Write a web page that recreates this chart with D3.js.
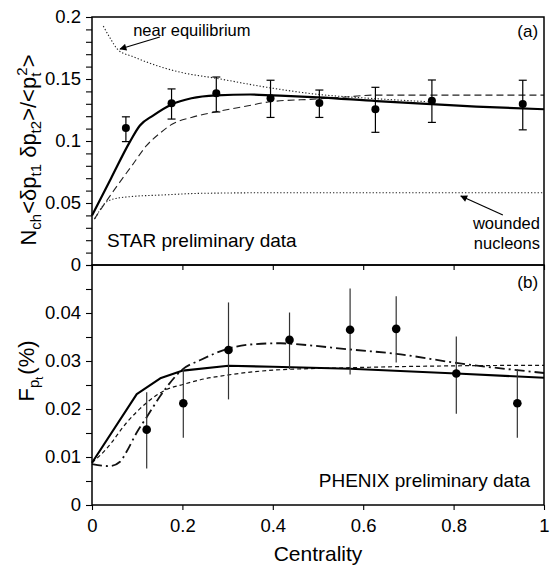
<!DOCTYPE html>
<html><head><meta charset="utf-8">
<script src="https://cdn.jsdelivr.net/npm/d3@7"></script>
<style>body{margin:0;background:#fff}svg{display:block}text{font-family:"Liberation Sans",Arial,Helvetica,sans-serif;fill:#000}</style>
</head><body>
<svg id="c" width="553" height="565"></svg>
<script>
// ---------- DATA ----------
// Panel (a): STAR preliminary data
const starX  = [0.075,0.176,0.275,0.395,0.503,0.627,0.752,0.953];
const starY  = [0.1105,0.1304,0.1385,0.1344,0.1306,0.1256,0.1325,0.1298];
const starHi = [0.1195,0.142,0.1516,0.149,0.1411,0.1433,0.1492,0.149];
const starLo = [0.0995,0.1177,0.1234,0.119,0.119,0.107,0.115,0.109];
const topSolid = [[0,0.040],[0.042,0.0698],[0.084,0.0995],[0.106,0.1125],[0.135,0.1205],[0.176,0.1295],[0.22,0.1345],[0.275,0.1368],[0.35,0.1375],[0.4,0.1368],[0.5,0.1352],[0.63,0.1322],[0.75,0.1298],[0.85,0.1278],[1.0,0.1256]];
const topDashed = [[0.005,0.037],[0.029,0.05],[0.05,0.061],[0.09,0.081],[0.12,0.096],[0.151,0.1065],[0.177,0.1135],[0.22,0.119],[0.275,0.1236],[0.34,0.128],[0.395,0.1317],[0.5,0.1339],[0.57,0.1357],[0.62,0.137],[1.0,0.137]];
const nearEquilibrium = [[0.025,0.1927],[0.04,0.183],[0.058,0.1734],[0.091,0.168],[0.15,0.16],[0.195,0.1555],[0.276,0.1505],[0.387,0.1433],[0.5,0.1376],[0.616,0.1344],[0.742,0.1317]];
const woundedNucleons = [[0.007,0.0376],[0.025,0.0484],[0.047,0.0532],[0.084,0.0551],[0.158,0.0565],[0.24,0.0578],[0.417,0.0583],[1.0,0.0583]];
// Panel (b): PHENIX preliminary data
const phenixX  = [0.121,0.202,0.302,0.437,0.571,0.673,0.806,0.941];
const phenixY  = [0.0157,0.0212,0.0323,0.0344,0.0365,0.0367,0.0274,0.0212];
const phenixHi = [0.0235,0.0283,0.0422,0.0401,0.0451,0.0435,0.0351,0.0283];
const phenixLo = [0.0076,0.014,0.022,0.0283,0.0272,0.0297,0.019,0.014];
const botSolid = [[0,0.0088],[0.099,0.0231],[0.151,0.0264],[0.201,0.028],[0.302,0.029],[0.4,0.0288],[0.571,0.0284],[0.806,0.0274],[1.0,0.0265]];
const botDashed = [[0,0.0088],[0.032,0.0117],[0.077,0.0172],[0.121,0.0213],[0.166,0.0241],[0.201,0.0251],[0.24,0.0261],[0.302,0.0271],[0.402,0.0281],[0.571,0.0286],[0.806,0.029],[1.0,0.0291]];
const botDashDot = [[0,0.0085],[0.04,0.0081],[0.062,0.009],[0.077,0.0112],[0.099,0.0151],[0.121,0.0183],[0.151,0.0227],[0.201,0.0283],[0.24,0.0302],[0.302,0.0326],[0.358,0.0335],[0.417,0.0337],[0.437,0.0336],[0.571,0.0324],[0.673,0.0315],[0.806,0.0296],[1.0,0.0275]];
// Ticks
const xTicks = [0,0.2,0.4,0.6,0.8,1];
const xTickLabels = ["0","0.2","0.4","0.6","0.8","1"];
const topTicks = [0,0.05,0.1,0.15,0.2];
const topTickLabels = ["0","0.05","0.1","0.15","0.2"];
const botTicks = [0,0.01,0.02,0.03,0.04];
const botTickLabels = ["0","0.01","0.02","0.03","0.04"];

// ---------- LAYOUT ----------
const L = 92, R = 544, T1 = 17, B1 = 265, T2 = 265, B2 = 505;
const svg = d3.select("#c");
const x = d3.scaleLinear().domain([0,1]).range([L,R]);
const yA = d3.scaleLinear().domain([0,0.2]).range([B1,T1]);
const yB = d3.scaleLinear().domain([0,0.05]).range([B2,T2]);

const defs = svg.append("defs");
defs.append("marker").attr("id","arr").attr("viewBox","0 0 10 10").attr("refX",9).attr("refY",5)
  .attr("markerWidth",9).attr("markerHeight",7).attr("markerUnits","userSpaceOnUse").attr("orient","auto")
  .append("path").attr("d","M0,0L10,5L0,10z").attr("fill","#000");

// ---------- AXES ----------
function leftAxis(y, major, labels, minorStep, maxV) {
  const minor = d3.range(0, maxV + 1e-9, minorStep);
  const g = svg.append("g").attr("transform",`translate(${L},0)`)
    .call(d3.axisLeft(y).tickValues(minor).tickSize(6).tickPadding(5)
      .tickFormat(v => { const i = major.findIndex(m => Math.abs(m - v) < 1e-9); return i >= 0 ? labels[i] : ""; }));
  g.select(".domain").remove();
  g.selectAll("line").attr("stroke","#000").attr("stroke-width",1.1);
  g.selectAll("text").style("font-size","18.5px").attr("fill","#000");
}
leftAxis(yA, topTicks, topTickLabels, 0.01, 0.2);
leftAxis(yB, botTicks, botTickLabels, 0.005, 0.05);

const gx = svg.append("g").attr("transform",`translate(0,${B2})`)
  .call(d3.axisBottom(x).tickValues(xTicks).tickSize(5).tickPadding(9).tickFormat((d,i)=>xTickLabels[i]));
gx.select(".domain").remove();
gx.selectAll("line").attr("stroke","#000").attr("stroke-width",1.1);
gx.selectAll("text").style("font-size","18.5px").attr("fill","#000");

const gx2 = svg.append("g").attr("transform",`translate(0,${B1})`)
  .call(d3.axisBottom(x).tickValues(xTicks).tickSize(5).tickFormat(""));
gx2.select(".domain").remove();
gx2.selectAll("line").attr("stroke","#000").attr("stroke-width",1.1);

// ---------- LINES ----------
function drawLine(data, y, curve, opts) {
  const ln = d3.line().x(d=>x(d[0])).y(d=>y(d[1])).curve(curve);
  svg.append("path").datum(data).attr("d",ln).attr("fill","none")
    .attr("stroke", opts.color || "#000").attr("stroke-width", opts.w)
    .attr("stroke-dasharray", opts.dash || null).attr("stroke-linejoin","round");
}
drawLine(nearEquilibrium, yA, d3.curveMonotoneX, {w:1.1, dash:"1.3,2", color:"#222"});
drawLine(woundedNucleons, yA, d3.curveMonotoneX, {w:1.1, dash:"1.3,2", color:"#222"});
drawLine(topDashed, yA, d3.curveMonotoneX, {w:1.1, dash:"7,4", color:"#222"});
drawLine(topSolid, yA, d3.curveMonotoneX, {w:2.2});

drawLine(botDashed, yB, d3.curveMonotoneX, {w:1.2, dash:"4,3", color:"#111"});
drawLine(botDashDot, yB, d3.curveMonotoneX, {w:1.8, dash:"10,4,2,4", color:"#111"});
drawLine(botSolid, yB, d3.curveLinear, {w:2.1});

// ---------- DATA POINTS ----------
const star = starX.map((v,i)=>({x:v,y:starY[i],hi:starHi[i],lo:starLo[i]}));
const gs = svg.append("g");
gs.selectAll("line.eb").data(star).join("line").attr("x1",d=>x(d.x)).attr("x2",d=>x(d.x))
  .attr("y1",d=>yA(d.hi)).attr("y2",d=>yA(d.lo)).attr("stroke","#000").attr("stroke-width",1.2);
gs.selectAll("line.ct").data(star).join("line").attr("x1",d=>x(d.x)-4).attr("x2",d=>x(d.x)+4)
  .attr("y1",d=>yA(d.hi)).attr("y2",d=>yA(d.hi)).attr("stroke","#000").attr("stroke-width",1.2);
gs.selectAll("line.cb").data(star).join("line").attr("x1",d=>x(d.x)-4).attr("x2",d=>x(d.x)+4)
  .attr("y1",d=>yA(d.lo)).attr("y2",d=>yA(d.lo)).attr("stroke","#000").attr("stroke-width",1.2);
gs.selectAll("circle").data(star).join("circle").attr("cx",d=>x(d.x)).attr("cy",d=>yA(d.y)).attr("r",4).attr("fill","#000");

const phx = phenixX.map((v,i)=>({x:v,y:phenixY[i],hi:phenixHi[i],lo:phenixLo[i]}));
const gp = svg.append("g");
gp.selectAll("line").data(phx).join("line").attr("x1",d=>x(d.x)).attr("x2",d=>x(d.x))
  .attr("y1",d=>yB(d.hi)).attr("y2",d=>yB(d.lo)).attr("stroke","#333").attr("stroke-width",1.2);
gp.selectAll("circle").data(phx).join("circle").attr("cx",d=>x(d.x)).attr("cy",d=>yB(d.y)).attr("r",4.3).attr("fill","#000");

// ---------- FRAMES ----------
svg.append("rect").attr("x",L).attr("y",T1).attr("width",R-L).attr("height",B1-T1).attr("fill","none").attr("stroke","#000").attr("stroke-width",1.5);
svg.append("rect").attr("x",L).attr("y",T2).attr("width",R-L).attr("height",B2-T2).attr("fill","none").attr("stroke","#000").attr("stroke-width",1.5);

// ---------- ANNOTATIONS ----------
function txt(px, py, s, size, anchor) {
  svg.append("text").attr("x",px).attr("y",py).attr("text-anchor",anchor||"start").style("font-size",size+"px").text(s);
}
txt(x(0.091), yA(0.1847), "near equilibrium", 16.5);
svg.append("line").attr("x1",x(0.15)).attr("y1",yA(0.1839)).attr("x2",x(0.062)).attr("y2",yA(0.1742))
  .attr("stroke","#000").attr("stroke-width",1.2).attr("marker-end","url(#arr)");
txt(x(0.991), yA(0.029), "wounded", 16.5, "end");
txt(x(0.991), yA(0.0129), "nucleons", 16.5, "end");
svg.append("line").attr("x1",x(0.909)).attr("y1",yA(0.0403)).attr("x2",x(0.816)).attr("y2",yA(0.0556))
  .attr("stroke","#000").attr("stroke-width",1.2).attr("marker-end","url(#arr)");
txt(x(0.033), yA(0.0145), "STAR preliminary data", 19);
txt(x(0.969), yB(0.0038), "PHENIX preliminary data", 19, "end");
txt(x(0.987), yA(0.1839), "(a)", 17, "end");
txt(x(0.987), yB(0.0452), "(b)", 17, "end");

svg.append("text").attr("x",(L+R)/2).attr("y",561).attr("text-anchor","middle").style("font-size","21px").text("Centrality");

// rotated labels with sub/superscripts
function richLabel(tx, ty, segs) {
  const t = svg.append("text").attr("transform",`translate(${tx},${ty}) rotate(-90)`).attr("text-anchor","middle");
  let cur = 0;
  segs.forEach(s => {
    const sh = s.shift || 0;
    t.append("tspan").attr("dy", sh - cur).attr("dx", s.dx || 0).style("font-size", s.size + "px").text(s.t);
    cur = sh;
  });
}
richLabel(36, 150, [
  {t:"N", size:22}, {t:"ch", size:15, shift:5},
  {t:"<δp", size:22}, {t:"t1", size:15, shift:5},
  {t:" δp", size:22}, {t:"t2", size:15, shift:5},
  {t:">/<p", size:22}, {t:"t", size:15, shift:5}, {t:"2", size:15, shift:-9, dx:-3},
  {t:">", size:22}
]);
richLabel(34, 371, [
  {t:"F", size:22}, {t:"p", size:15, shift:5}, {t:"t", size:11, shift:9},
  {t:"(%)", size:22, dx:2}
]);
</script>
</body></html>
